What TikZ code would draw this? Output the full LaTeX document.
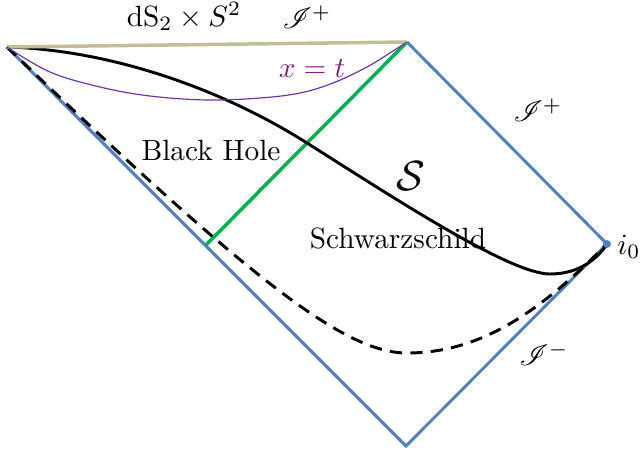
\documentclass[tikz,border=0pt]{standalone}
\usepackage{mathrsfs}
\definecolor{pblue}{RGB}{79,129,189}
\definecolor{pgreen}{RGB}{0,176,80}
\definecolor{ptan}{RGB}{196,189,151}
\definecolor{pviolet}{RGB}{112,48,160}
\definecolor{ppurple}{RGB}{128,30,128}
\tikzset{
  bound/.style={draw=pblue, line width=1pt, line join=miter},
  horizon/.style={draw=pgreen, line width=1.2pt},
  future/.style={draw=ptan, line width=1.2pt},
  slice/.style={draw=pviolet, line width=0.4pt},
  surf/.style={draw=black, line width=1pt},
  dsurf/.style={draw=black, line width=1pt, dash pattern=on 4.2pt off 2.8pt},
  lbl/.style={inner sep=0pt}
}
\begin{document}
\begin{tikzpicture}[x=0.341pt,y=-0.341pt]
\useasboundingbox (0,0) rectangle (644,455);
\coordinate (L) at (7,47);
\coordinate (T) at (407,42);
\coordinate (R) at (607,244);
\coordinate (B) at (406,446);
\coordinate (G) at (206,245);
\coordinate (D) at (407,353);
\coordinate (X) at (307,143);
\coordinate (M) at (550,274);
% Penrose diagram boundary
\draw[bound] (L) -- (B) -- (R) -- (T);
% horizon
\draw[horizon] (T) -- (G);
% dashed surface
\draw[dsurf] (L) .. controls (257,287) and (347,353) .. (D)
             .. controls (487,353) and (547,304) .. (R);
% S surface
\draw[surf] (L) .. controls (110,50) and (220,88) .. (X)
            .. controls (394,198) and (510,274) .. (M)
            .. controls (580,274) and (598,258) .. (R);
% future boundary dS2 x S2
\draw[future] (L) -- (T);
% x = t slice
\draw[slice] plot[smooth, tension=0.6] coordinates {(7,47) (50,72) (100,87) (150,96) (207,100) (260,98) (300,93) (333,83) (367,67) (393,51) (407,42)};
% i0 point
\fill[pblue] (R) circle (4);
% labels
\node[lbl, anchor=base] (ds) at (184,26) {dS$_2\times S^2$};
\node[lbl] (scritop) at (307,17) {$\mathscr{I}^+$};
\node[lbl, anchor=base, text=ppurple] (xt) at (312,77) {$x=t$};
\node[lbl] (scriright) at (538,110) {$\mathscr{I}^+$};
\node[lbl, anchor=base] (bh) at (211,160) {Black Hole};
\node[lbl] (S) at (411,176) {\Large$\mathcal{S}$};
\node[lbl, anchor=base] (sch) at (398,248) {Schwarzschild};
\node[lbl] (i0) at (629,247) {$i_0$};
\node[lbl] (scriminus) at (544,354) {$\mathscr{I}^-$};
\end{tikzpicture}
\end{document}
